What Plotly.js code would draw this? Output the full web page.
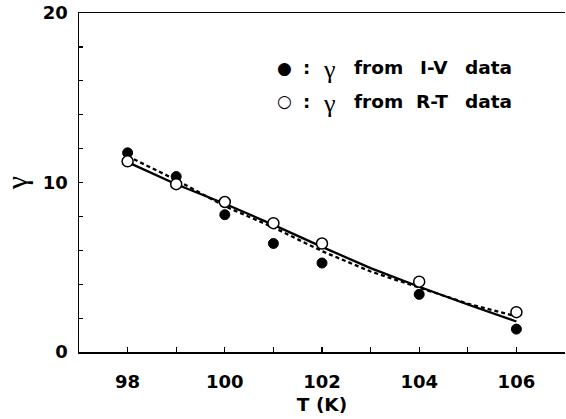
<!DOCTYPE html>
<html>
<head>
<meta charset="utf-8">
<script src="https://cdn.plot.ly/plotly-3.0.1.min.js"></script>
<style>html,body{margin:0;padding:0;background:#fff;}#chart{width:566px;height:419px;}</style>
</head>
<body>
<div id="chart"></div>
<script>
// Data
const tempIV = [98, 99, 100, 101, 102, 104, 106];
const gammaIV = [11.75, 10.35, 8.1, 6.4, 5.25, 3.4, 1.35];

const tempRT = [98, 99, 100, 101, 102, 104, 106];
const gammaRT = [11.25, 9.9, 8.85, 7.6, 6.4, 4.15, 2.35];

const fitT = [98, 99, 100, 101, 102, 103, 104, 105, 106];
const fitSolid = [11.2, 9.9, 8.75, 7.5, 6.2, 4.95, 3.85, 2.8, 1.8];
const fitDashed = [11.55, 10.15, 8.6, 7.35, 5.95, 4.75, 3.8, 2.85, 2.1];

const xTickVals = [98, 100, 102, 104, 106];
const yTickVals = [0, 10, 20];

const legendSymbols = ["●", "○"];
const legendWords = [["from", "I-V", "data"], ["from", "R-T", "data"]];

const BOLD = "DejaVu Sans, Liberation Sans, Arial, sans-serif";
const SERIF = "Liberation Serif, DejaVu Serif, serif";

const traces = [
  {x: fitT, y: fitSolid, mode: "lines", line: {color: "#000", width: 2.3}, showlegend: false, hoverinfo: "skip"},
  {x: fitT, y: fitDashed, mode: "lines", line: {color: "#000", width: 2.3, dash: "4px,3px"}, showlegend: false, hoverinfo: "skip"},
  {x: tempIV, y: gammaIV, mode: "markers", marker: {symbol: "circle", size: 10, color: "#000", line: {color: "#000", width: 1}}, showlegend: false},
  {x: tempRT, y: gammaRT, mode: "markers", marker: {symbol: "circle", size: 11, color: "#fff", line: {color: "#000", width: 1.5}}, showlegend: false}
];

// legend built as annotations (pixel positions converted to paper coords)
const L = 79, W = 486, B = 352, H = 339;
const px = v => (v - L) / W;
const py = v => (B - v) / H;
const rowY = [67.5, 101.5];
const wordX = [[352, 418, 463], [352, 414, 463]];
const annotations = [];
for (let r = 0; r < 2; r++) {
  annotations.push({xref: "paper", yref: "paper", x: px(284), y: py(rowY[r]), xanchor: "center", yanchor: "middle", showarrow: false,
    text: legendSymbols[r], font: {family: "DejaVu Sans, sans-serif", size: 17, color: "#000"}});
  annotations.push({xref: "paper", yref: "paper", x: px(306), y: py(rowY[r]), xanchor: "center", yanchor: "middle", showarrow: false,
    text: "<b>:</b>", font: {family: BOLD, size: 18, color: "#000"}});
  annotations.push({xref: "paper", yref: "paper", x: px(329), y: py(rowY[r] + 2), xanchor: "center", yanchor: "middle", showarrow: false,
    text: "γ", font: {family: SERIF, size: 26, color: "#000"}});
  for (let w = 0; w < 3; w++) {
    annotations.push({xref: "paper", yref: "paper", x: px(wordX[r][w]), y: py(rowY[r]), xanchor: "left", yanchor: "middle", showarrow: false,
      text: "<b>" + legendWords[r][w] + "</b>", font: {family: BOLD, size: 18.5, color: "#000"}});
  }
}

const layout = {
  width: 566, height: 419,
  margin: {l: 79, r: 1, t: 13, b: 67},
  paper_bgcolor: "#fff", plot_bgcolor: "#fff",
  showlegend: false,
  font: {family: BOLD, color: "#000"},
  xaxis: {
    range: [97, 107], tickvals: xTickVals, ticks: "inside", ticklen: 5, tickwidth: 1.2, tickcolor: "#000",
    minor: {dtick: 1, tick0: 97, ticks: "inside", ticklen: 5, tickwidth: 1.2, tickcolor: "#000"},
    showline: true, linecolor: "#000", linewidth: 1.5, mirror: true,
    showgrid: false, zeroline: false,
    tickfont: {family: BOLD, size: 18, color: "#000", weight: "bold"},
    ticklabelstandoff: 13,
    title: {text: "<b>T (K)</b>", font: {family: BOLD, size: 18.5, color: "#000"}, standoff: 7}
  },
  yaxis: {
    range: [0, 20], tickvals: yTickVals, ticks: "inside", ticklen: 4, tickwidth: 1.2, tickcolor: "#000",
    minor: {dtick: 2, tick0: 0, ticks: "inside", ticklen: 4, tickwidth: 1.2, tickcolor: "#000"},
    showline: true, linecolor: "#000", linewidth: 1.5, mirror: false,
    showgrid: false, zeroline: false,
    tickfont: {family: BOLD, size: 18, color: "#000", weight: "bold"},
    ticklabelstandoff: 6,
    title: {text: "γ", font: {family: SERIF, size: 30, color: "#000"}, standoff: 12}
  },
  annotations: annotations
};

Plotly.newPlot("chart", traces, layout, {staticPlot: true, displayModeBar: false});
</script>
</body>
</html>
